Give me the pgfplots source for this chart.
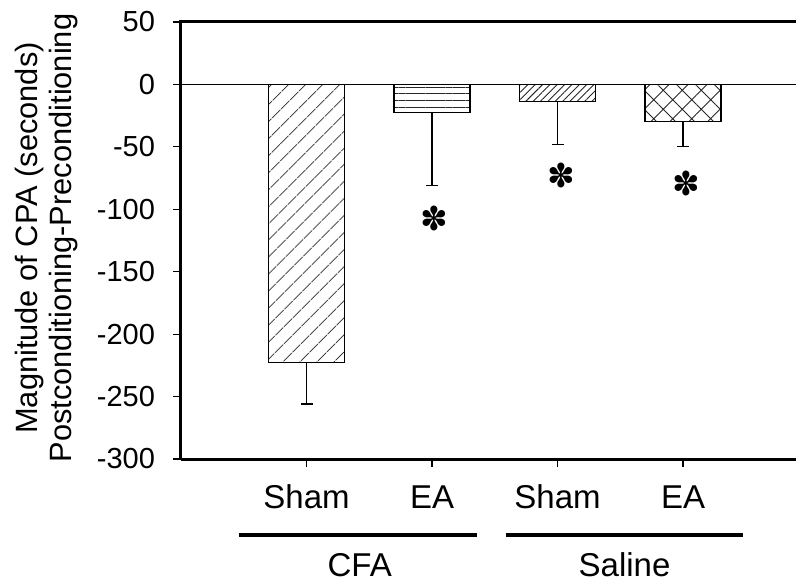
\documentclass[border=0pt]{standalone}
\usepackage{pgfplots}
\pgfplotsset{compat=1.18}
\usepackage{fontspec}
\setmainfont{Liberation Sans}
\newfontfamily\dejavu{DejaVu Sans}
\usetikzlibrary{patterns.meta}

\begin{document}
\begin{tikzpicture}
\begin{axis}[
  scale only axis, width=615pt, height=437pt,
  xmin=-1, xmax=3.9, ymin=-300, ymax=50,
  enlargelimits=false,
  axis lines=left,
  axis line style={-, line width=3pt, black},
  ytick={-300,-250,-200,-150,-100,-50,0,50},
  yticklabels={-300,-250,-200,-150,-100,-50,0,50},
  xtick={0,1,2,3}, xticklabels={Sham,EA,Sham,EA},
  tick align=outside, major tick length=8pt,
  major tick style={line width=1.2pt, black},
  yticklabel style={font=\fontsize{29}{34}\selectfont, xshift=-14.5pt},
  xticklabel style={font=\fontsize{33}{38}\selectfont, yshift=-14pt,
    text height=24pt, text depth=7pt},
  clip=false,
]
\coordinate (A) at (rel axis cs:0,0);
\coordinate (B) at (rel axis cs:1,1);

% bars
\addplot[ybar, bar width=76pt, bar shift=0pt, draw=black, line width=1.2pt,
  pattern={Lines[angle=45, distance=13pt, line width=0.9pt]}, pattern color=black!85,
  error bars/.cd, y dir=minus, y explicit,
  error bar style={line width=1.2pt, black, solid},
  error mark options={rotate=90, mark size=6pt, line width=1.2pt, black}]
  coordinates {(0,-223) +- (0,33)};
\addplot[ybar, bar width=76pt, bar shift=0pt, draw=black, line width=1.2pt,
  pattern={Lines[angle=0, distance=6.7pt, line width=1.2pt]}, pattern color=black!85,
  error bars/.cd, y dir=minus, y explicit,
  error bar style={line width=1.2pt, black, solid},
  error mark options={rotate=90, mark size=6pt, line width=1.2pt, black}]
  coordinates {(1,-22.2) +- (0,59)};
\addplot[ybar, bar width=76pt, bar shift=0pt, draw=black, line width=1.2pt,
  pattern={Lines[angle=45, distance=5.2pt, line width=0.9pt]}, pattern color=black!85,
  error bars/.cd, y dir=minus, y explicit,
  error bar style={line width=1.2pt, black, solid},
  error mark options={rotate=90, mark size=6pt, line width=1.2pt, black}]
  coordinates {(2,-13.4) +- (0,34.6)};
\addplot[ybar, bar width=76pt, bar shift=0pt, draw=black, line width=1.2pt,
  pattern={Hatch[angle=45, distance=13.4pt, line width=0.9pt]}, pattern color=black!85,
  error bars/.cd, y dir=minus, y explicit,
  error bar style={line width=1.2pt, black, solid},
  error mark options={rotate=90, mark size=6pt, line width=1.2pt, black}]
  coordinates {(3,-29.7) +- (0,20.3)};

% significance asterisks
\addplot[only marks, mark=text,
  text mark={\fontsize{33}{33}\selectfont\dejavu ✽}]
  coordinates {(1.02,-107) (2.03,-73) (3.03,-79)};

% zero line and top border
\draw[line width=1.2pt] (axis cs:-1,0) -- (axis cs:3.9,0);
\draw[line width=3pt] (rel axis cs:0,0.95) -- (rel axis cs:0,1) -- (rel axis cs:1,1);

% group lines and labels
\draw[line width=4pt] (axis cs:-0.534,-360.8) -- (axis cs:1.355,-360.8);
\draw[line width=4pt] (axis cs:1.586,-360.8) -- (axis cs:3.474,-360.8);
\node[font=\fontsize{33}{38}\selectfont] at (axis cs:0.424,-384.9) {CFA};
\node[font=\fontsize{33}{38}\selectfont] at (axis cs:2.534,-384.9) {Saline};

% y label (two lines)
\node[rotate=90, anchor=base, font=\fontsize{30.8}{36}\selectfont]
  at (axis cs:-2.147,-123) {Magnitude of CPA (seconds)};
\node[rotate=90, anchor=base, font=\fontsize{30.8}{36}\selectfont]
  at (axis cs:-1.8685,-123) {Postconditioning-Preconditioning};
\end{axis}
\pgfresetboundingbox
\path ([shift={(-181pt,-124pt)}]A) rectangle ([shift={(0pt,22pt)}]B);
\end{tikzpicture}
\end{document}
